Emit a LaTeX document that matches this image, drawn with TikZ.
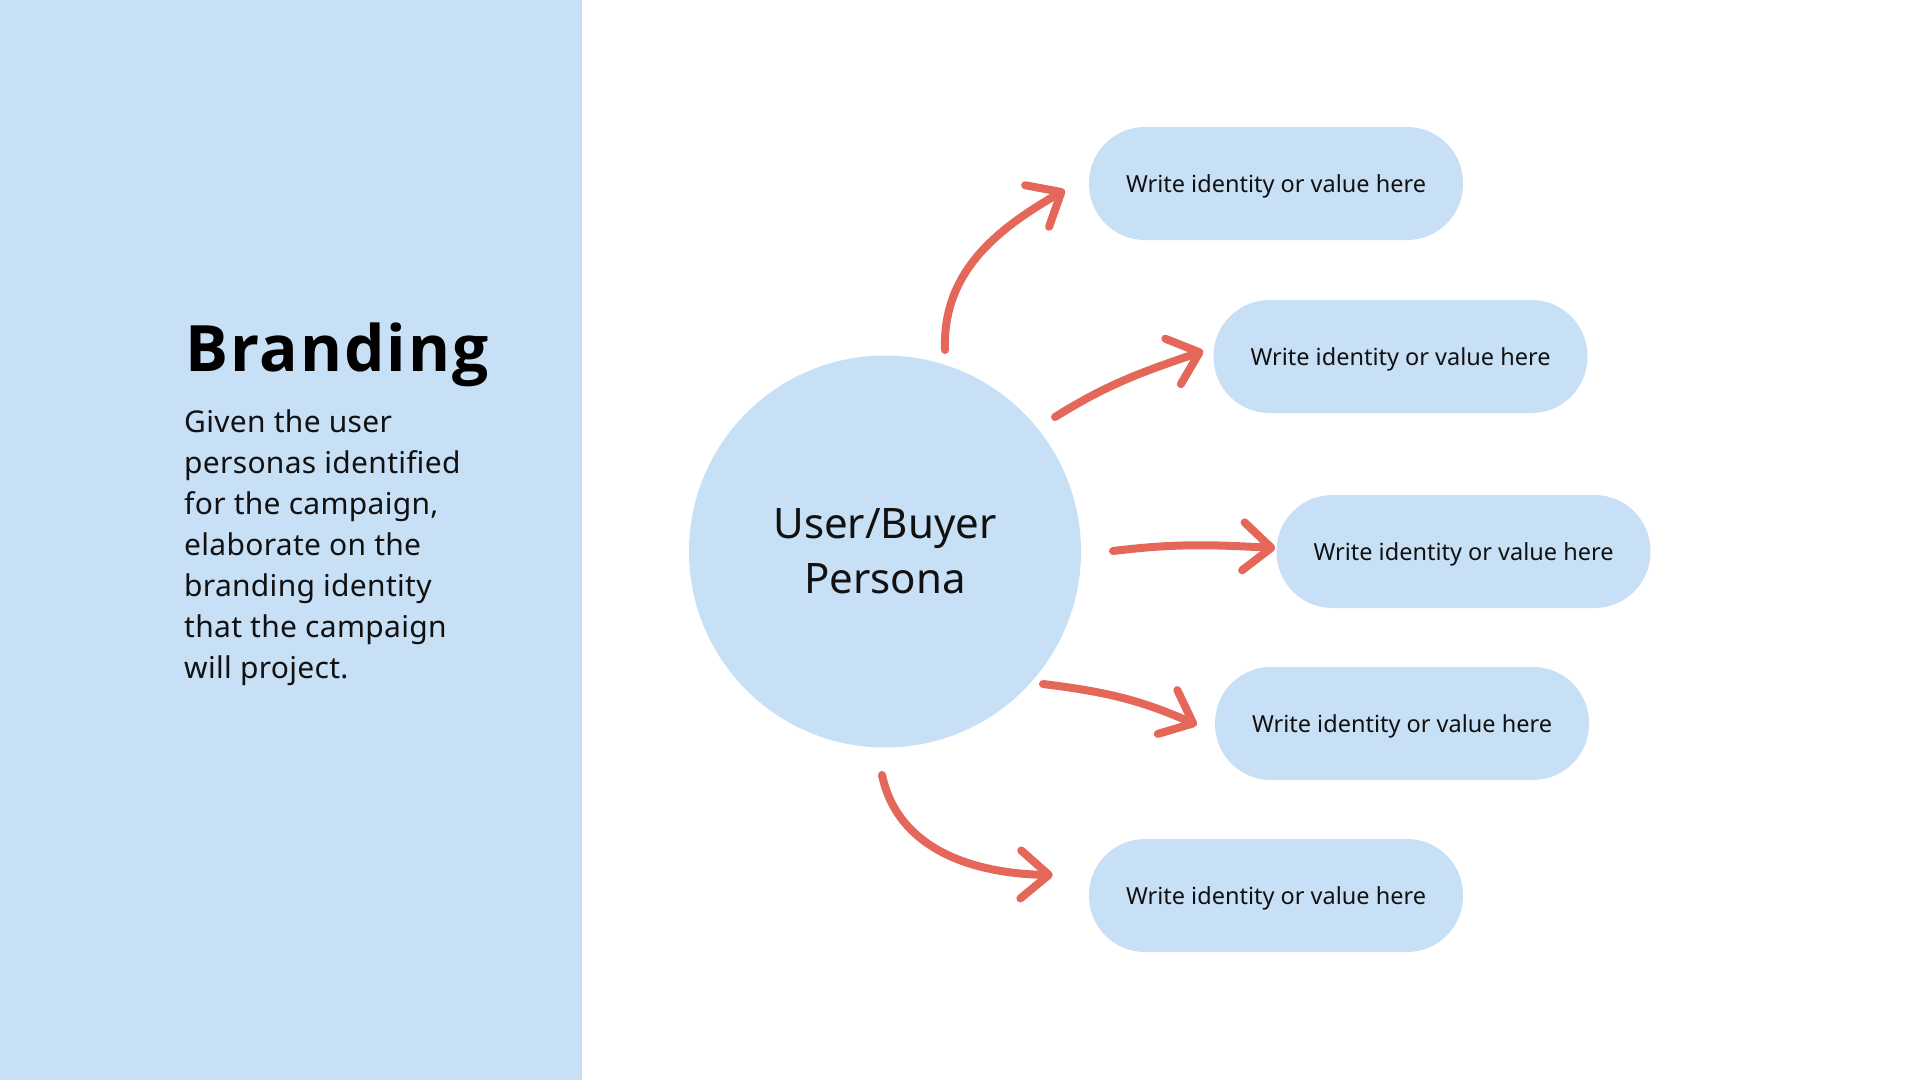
\documentclass[tikz,border=0pt]{standalone}
\usepackage{fontspec}
\setmainfont{Noto Sans}
\newfontfamily\titlefont{Open Sans}[LetterSpace=3]
\newfontfamily\bodyfont{Noto Sans}[LetterSpace=1]
\usetikzlibrary{arrows.meta,calc}
\definecolor{lblue}{HTML}{C7E0F6}
\definecolor{ared}{HTML}{E4675A}
\definecolor{ink}{HTML}{111111}
\begin{document}
\begin{tikzpicture}[x=1pt,y=1pt,
  pill/.style={fill=lblue, rounded corners=56pt, minimum width=374pt, minimum height=113pt,
    inner sep=0pt, text=ink, font=\fontsize{23.5}{28}\selectfont, text height=17pt, text depth=0pt},
  arr/.style={draw=ared, line width=8pt, line cap=round,
    -{Straight Barb[length=28pt,width=48pt,round]}}
]
\useasboundingbox (0,0) rectangle (1920,-1080);
\fill[white] (0,0) rectangle (1920,-1080);
\fill[lblue] (0,0) rectangle (582,-1080);

\node[anchor=base west, inner sep=0pt, text=black,
  font=\titlefont\fontsize{64}{70}\selectfont\bfseries] (title) at (185,-371) {Branding};
\node[anchor=north west, inner sep=0pt, text=ink, align=left,
  font=\bodyfont\fontsize{30}{41}\selectfont] (body) at (184,-409)
  {Given the user\\personas identified\\for the campaign,\\elaborate on the\\branding identity\\that the campaign\\will project.};

\node[circle, fill=lblue, minimum size=392pt, inner sep=0pt, align=center, text=ink,
  font=\fontsize{42}{55}\selectfont] (c) at (885,-551.5) {User/Buyer\\Persona};

\node[pill] (p1) at (1276,-183.5) {Write identity or value here};
\node[pill] (p2) at (1400.5,-356.5) {Write identity or value here};
\node[pill] (p3) at (1463.5,-551.5) {Write identity or value here};
\node[pill] (p4) at (1402,-723.5) {Write identity or value here};
\node[pill] (p5) at (1276,-895.5) {Write identity or value here};

\coordinate (s1) at ($(c.center)+(60,201.5)$);
\coordinate (s2) at ($(c.center)+(170,134.5)$);
\coordinate (s3) at ($(c.center)+(228,0.5)$);
\coordinate (s4) at ($(c.center)+(158,-132.5)$);
\coordinate (s5) at ($(c.center)+(-3,-223.5)$);
\coordinate (e1) at ($(p1.west)+(-24,-6.5)$);
\coordinate (e2) at ($(p2.west)+(-10,5.5)$);
\coordinate (e3) at ($(p3.west)+(-1,3.5)$);
\coordinate (e4) at ($(p4.west)+(-18,-1.5)$);
\coordinate (e5) at ($(p5.west)+(-36,20.5)$);

\draw[arr] (s1) to[out=92, in=210] (e1);
\draw[arr] (s2) to[out=32, in=199] (e2);
\draw[arr] (s3) to[out=7, in=177] (e3);
\draw[arr] (s4) to[out=-7, in=156] (e4);
\draw[arr] (s5) to[out=-78, in=179] (e5);
\end{tikzpicture}
\end{document}
